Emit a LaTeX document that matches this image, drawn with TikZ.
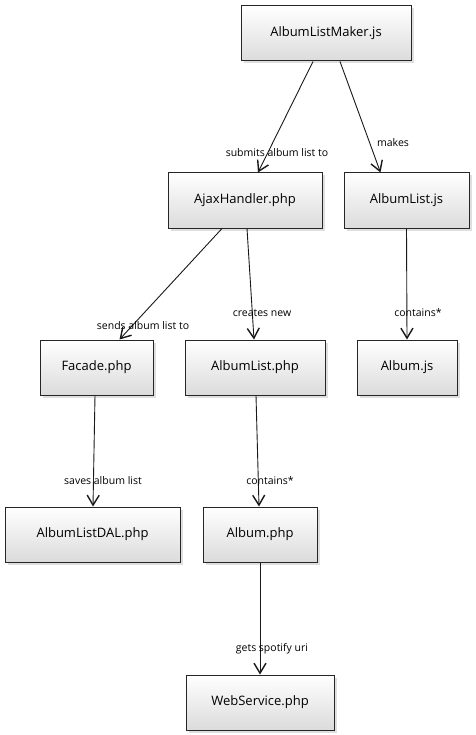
\documentclass[tikz,border=0pt]{standalone}
\usepackage{fontspec}
\setmainfont{Open Sans}
\usetikzlibrary{arrows.meta,shadows}
\begin{document}
\begin{tikzpicture}[x=1pt,y=-1pt]
\useasboundingbox (0,0) rectangle (475,735);
\tikzset{
  cls/.style={draw=black!85, line width=1pt, top color=white, bottom color=black!14,
    drop shadow={shadow xshift=2.5pt, shadow yshift=-2.5pt, opacity=0.25},
    font=\fontsize{13}{15}\selectfont, inner sep=0pt, minimum height=55pt},
  lbl/.style={font=\fontsize{10.5}{12}\selectfont, inner sep=1pt},
  edge/.style={draw=black!90, line width=0.9pt, -{Straight Barb[length=10pt,width=12pt,line width=1.4pt]}}
}
\node[cls, minimum width=170pt] (maker) at (326,33.5) {AlbumListMaker.js};
\node[cls, minimum width=154pt] (ajax) at (245,200.5) {AjaxHandler.php};
\node[cls, minimum width=125pt] (alistjs) at (406.5,200.5) {AlbumList.js};
\node[cls, minimum width=113pt] (facade) at (96.5,367.5) {Facade.php};
\node[cls, minimum width=140pt] (alistphp) at (255,367.5) {AlbumList.php};
\node[cls, minimum width=100pt] (albumjs) at (407,367.5) {Album.js};
\node[cls, minimum width=175pt] (dal) at (92.5,534.5) {AlbumListDAL.php};
\node[cls, minimum width=114pt] (albumphp) at (260,534.5) {Album.php};
\node[cls, minimum width=148pt] (ws) at (260,702.5) {WebService.php};

\draw[edge] ([xshift=-13pt]maker.south) -- ([xshift=13pt]ajax.north);
\draw[edge] ([xshift=14pt]maker.south) -- ([xshift=-26pt]alistjs.north);
\draw[edge] ([xshift=-23pt]ajax.south) -- ([xshift=23pt]facade.north);
\draw[edge] ([xshift=2pt]ajax.south) -- ([xshift=-1pt]alistphp.north);
\draw[edge] (alistjs.south) -- (albumjs.north);
\draw[edge] ([xshift=-1.5pt]facade.south) -- ([xshift=0.5pt]dal.north);
\draw[edge] ([xshift=1pt]alistphp.south) -- ([xshift=-1pt]albumphp.north);
\draw[edge] (albumphp.south) -- (ws.north);

\node[lbl] (l1) at (277,153) {submits album list to};
\node[lbl] (l2) at (393,143) {makes};
\node[lbl] (l3) at (143,326) {sends album list to};
\node[lbl] (l4) at (262,313) {creates new};
\node[lbl] (l5) at (418,313) {contains*};
\node[lbl] (l6) at (103,481) {saves album list};
\node[lbl] (l7) at (270,481) {contains*};
\node[lbl] (l8) at (272,649) {gets spotify uri};
\end{tikzpicture}
\end{document}
